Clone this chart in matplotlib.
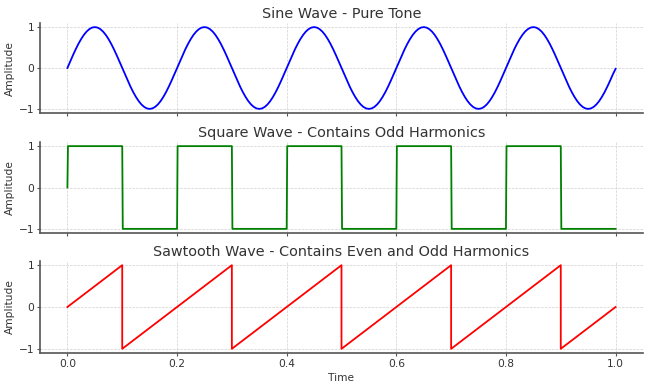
import matplotlib
matplotlib.use("Agg")
import matplotlib.pyplot as plt

# ---- data ----
sine_time = [i / 200 for i in range(201)]
sine_values = [
    0.000, 0.156, 0.309, 0.454, 0.588, 0.707, 0.809, 0.891, 0.951, 0.988, 1.000, 0.988, 0.951, 0.891, 0.809, 0.707, 0.588, 0.454, 0.309, 0.156,
    0.000, -0.156, -0.309, -0.454, -0.588, -0.707, -0.809, -0.891, -0.951, -0.988, -1.000, -0.988, -0.951, -0.891, -0.809, -0.707, -0.588, -0.454, -0.309, -0.156,
    0.000, 0.156, 0.309, 0.454, 0.588, 0.707, 0.809, 0.891, 0.951, 0.988, 1.000, 0.988, 0.951, 0.891, 0.809, 0.707, 0.588, 0.454, 0.309, 0.156,
    0.000, -0.156, -0.309, -0.454, -0.588, -0.707, -0.809, -0.891, -0.951, -0.988, -1.000, -0.988, -0.951, -0.891, -0.809, -0.707, -0.588, -0.454, -0.309, -0.156,
    0.000, 0.156, 0.309, 0.454, 0.588, 0.707, 0.809, 0.891, 0.951, 0.988, 1.000, 0.988, 0.951, 0.891, 0.809, 0.707, 0.588, 0.454, 0.309, 0.156,
    0.000, -0.156, -0.309, -0.454, -0.588, -0.707, -0.809, -0.891, -0.951, -0.988, -1.000, -0.988, -0.951, -0.891, -0.809, -0.707, -0.588, -0.454, -0.309, -0.156,
    0.000, 0.156, 0.309, 0.454, 0.588, 0.707, 0.809, 0.891, 0.951, 0.988, 1.000, 0.988, 0.951, 0.891, 0.809, 0.707, 0.588, 0.454, 0.309, 0.156,
    0.000, -0.156, -0.309, -0.454, -0.588, -0.707, -0.809, -0.891, -0.951, -0.988, -1.000, -0.988, -0.951, -0.891, -0.809, -0.707, -0.588, -0.454, -0.309, -0.156,
    0.000, 0.156, 0.309, 0.454, 0.588, 0.707, 0.809, 0.891, 0.951, 0.988, 1.000, 0.988, 0.951, 0.891, 0.809, 0.707, 0.588, 0.454, 0.309, 0.156,
    0.000, -0.156, -0.309, -0.454, -0.588, -0.707, -0.809, -0.891, -0.951, -0.988, -1.000, -0.988, -0.951, -0.891, -0.809, -0.707, -0.588, -0.454, -0.309, -0.156,
    -0.020,
]

square_time = [0.0, 0.001, 0.1, 0.101, 0.2, 0.201, 0.3, 0.301, 0.4, 0.401,
               0.5, 0.501, 0.6, 0.601, 0.7, 0.701, 0.8, 0.801, 0.9, 0.901, 1.0]
square_values = [0, 1, 1, -1, -1, 1, 1, -1, -1, 1,
                 1, -1, -1, 1, 1, -1, -1, 1, 1, -1, -1]

saw_time = [0.0, 0.1, 0.1, 0.3, 0.3, 0.5, 0.5, 0.7, 0.7, 0.9, 0.9, 1.0]
saw_values = [0, 1, -1, 1, -1, 1, -1, 1, -1, 1, -1, 0]

titles = ["Sine Wave - Pure Tone",
          "Square Wave - Contains Odd Harmonics",
          "Sawtooth Wave - Contains Even and Odd Harmonics"]
colors = ["blue", "green", "red"]
xticks = [0.0, 0.2, 0.4, 0.6, 0.8, 1.0]
xtick_labels = ["0.0", "0.2", "0.4", "0.6", "0.8", "1.0"]
yticks = [-1, 0, 1]
ytick_labels = ["\u22121", "0", "1"]

# ---- figure ----
fig = plt.figure(figsize=(6.5, 3.87), dpi=100)
W, H = 650, 387
boxes = [(23, 113), (142, 233), (261, 353)]
left_px, right_px = 40, 643

series = [(sine_time, sine_values), (square_time, square_values), (saw_time, saw_values)]
text_color = "#333333"
spine_color = "#555555"

for i, ((t, v), title, col, (top, bot)) in enumerate(zip(series, titles, colors, boxes)):
    ax = fig.add_axes([left_px / W, 1 - bot / H, (right_px - left_px) / W, (bot - top) / H])
    ax.plot(t, v, color=col, linewidth=1.3)
    ax.set_xlim(-0.05, 1.05)
    ax.set_ylim(-1.1, 1.1)
    ax.set_xticks(xticks)
    ax.set_yticks(yticks)
    ax.set_yticklabels(ytick_labels)
    ax.set_title(title, fontsize=10.4, color=text_color, pad=3.6)
    ax.set_ylabel("Amplitude", fontsize=7.7, color=text_color, labelpad=2.5)
    ax.grid(True, linestyle="--", linewidth=0.5, color="#d0d0d0")
    for s in ["top", "right"]:
        ax.spines[s].set_visible(False)
    for s in ["left", "bottom"]:
        ax.spines[s].set_color(spine_color)
        ax.spines[s].set_linewidth(1.2)
    ax.tick_params(axis="both", colors=spine_color, labelcolor=text_color,
                   labelsize=7.7, length=2.5, width=0.8, pad=1.5)
    if i < 2:
        ax.tick_params(axis="x", labelbottom=False)
    else:
        ax.set_xticklabels(xtick_labels)
        ax.set_xlabel("Time", fontsize=7.7, color=text_color, labelpad=3)

fig.savefig("out.png", dpi=100)
